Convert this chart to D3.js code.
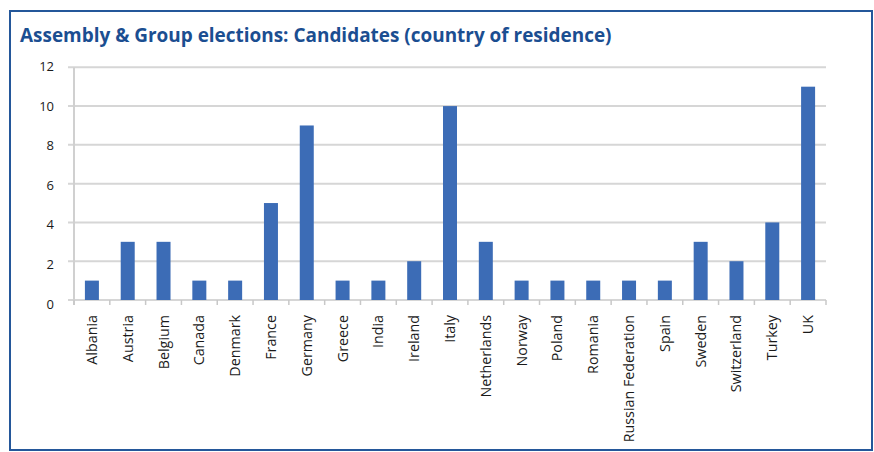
<!DOCTYPE html>
<html>
<head>
<meta charset="utf-8">
<script src="https://cdn.jsdelivr.net/npm/d3@7"></script>
<style>
  html, body { margin: 0; padding: 0; background: #fff; }
  svg { display: block; }
</style>
</head>
<body>
<svg id="chart" width="874" height="452"></svg>
<script>
const titleText = "Assembly & Group elections: Candidates (country of residence)";
const countries = ["Albania","Austria","Belgium","Canada","Denmark","France","Germany","Greece","India","Ireland","Italy","Netherlands","Norway","Poland","Romania","Russian Federation","Spain","Sweden","Switzerland","Turkey","UK"];
const candidates = [1,3,3,1,1,5,9,1,1,2,10,3,1,1,1,1,1,3,2,4,11];
const yTicks = [0,2,4,6,8,10,12];

(function () {
const svg = d3.select("#chart");
const font = "'Open Sans', 'Noto Sans', sans-serif";

// frame
svg.append("rect")
  .attr("x", 10).attr("y", 11).attr("width", 862).attr("height", 439)
  .attr("fill", "none").attr("stroke", "#24579a").attr("stroke-width", 2);

// title
const title = svg.append("text")
  .attr("x", 20).attr("y", 41.5)
  .attr("font-family", font).attr("font-weight", 700)
  .attr("font-size", 20).attr("fill", "#1b4e91")
  .text(titleText);
const tl = title.node().getComputedTextLength();
title.attr("font-size", 20 * 592 / tl);

const pLeft = 74, pRight = 826, pTop = 67.3, pBottom = 300;
const xb = d3.scaleBand().domain(countries).range([pLeft, pRight]);
const y = d3.scaleLinear().domain([0, 12]).range([pBottom, pTop]);
const yLabel = d3.scaleLinear().domain([0, 12]).range([304, 66.7]);

// gridlines
svg.append("g").selectAll("line").data(yTicks).join("line")
  .attr("x1", pLeft - 6).attr("x2", pRight)
  .attr("y1", d => y(d)).attr("y2", d => y(d))
  .attr("stroke", "#d6d6d6").attr("stroke-width", 2);

// y axis line
svg.append("line")
  .attr("x1", pLeft).attr("x2", pLeft).attr("y1", pTop).attr("y2", pBottom + 5)
  .attr("stroke", "#d0d0d0").attr("stroke-width", 2);

// x ticks at category boundaries
const bounds = countries.map(c => xb(c) + xb.bandwidth()).concat([pLeft]);
svg.append("g").selectAll("line").data(bounds).join("line")
  .attr("x1", d => d).attr("x2", d => d)
  .attr("y1", pBottom).attr("y2", pBottom + 5)
  .attr("stroke", "#c8c8c8").attr("stroke-width", 1.5);

// y labels
svg.append("g").selectAll("text").data(yTicks).join("text")
  .attr("x", 54).attr("y", d => yLabel(d)).attr("dy", "0.35em")
  .attr("text-anchor", "end")
  .attr("font-family", font).attr("font-size", 13).attr("fill", "#1a1a1a")
  .text(d => d);

// bars
svg.append("g").selectAll("rect").data(candidates).join("rect")
  .attr("x", (d, i) => xb(countries[i]) + xb.bandwidth() / 2 - 7)
  .attr("width", 14)
  .attr("y", d => y(d))
  .attr("height", d => y(0) - y(d))
  .attr("fill", "#3c6cb6");

// x labels
svg.append("g").selectAll("text").data(countries).join("text")
  .attr("transform", d => `translate(${xb(d) + xb.bandwidth() / 2},315) rotate(-90)`)
  .attr("dy", "0.35em")
  .attr("text-anchor", "end")
  .attr("font-family", font).attr("font-size", 14.3).attr("fill", "#1a1a1a")
  .text(d => d);
})();
</script>
</body>
</html>
